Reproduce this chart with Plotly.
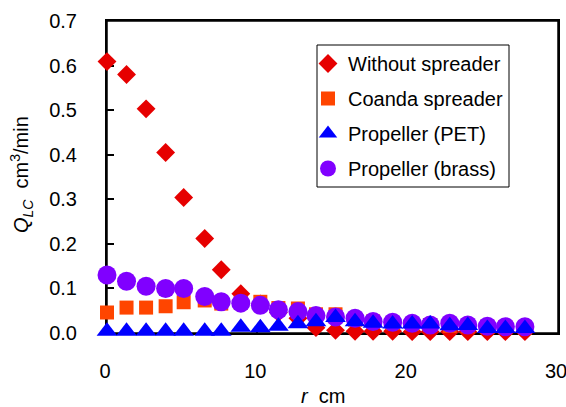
import plotly.graph_objects as go

# ---- data ----
r_cm = [0, 1.3, 2.6, 3.9, 5.1, 6.5, 7.6, 8.9, 10.2, 11.4, 12.7, 13.9, 15.2, 16.5,
        17.7, 19.0, 20.3, 21.5, 22.8, 24.0, 25.3, 26.5, 27.8]
without_spreader = [0.609, 0.580, 0.503, 0.405, 0.304, 0.212, 0.142, 0.088, 0.065,
                    0.046, 0.033, 0.012, 0.006, 0.004, 0.004, 0.004, 0.003, 0.003,
                    0.003, 0.003, 0.003, 0.003, 0.003]
coanda_spreader = [0.046, 0.057, 0.057, 0.060, 0.069, 0.073, 0.066, 0.068, 0.070,
                   0.056, 0.055, 0.042, 0.042, 0.030, 0.026, 0.022, 0.020, 0.018,
                   0.016, 0.015, 0.014, 0.013, 0.012]
propeller_pet = [0.004, 0.004, 0.004, 0.004, 0.004, 0.004, 0.004, 0.013, 0.012,
                 0.015, 0.021, 0.025, 0.035, 0.025, 0.022, 0.020, 0.020, 0.020,
                 0.016, 0.017, 0.010, 0.010, 0.010]
propeller_brass = [0.130, 0.116, 0.105, 0.100, 0.100, 0.082, 0.070, 0.067, 0.062,
                   0.052, 0.048, 0.039, 0.036, 0.033, 0.026, 0.024, 0.022, 0.018,
                   0.022, 0.018, 0.015, 0.014, 0.014]
series_names = ["Without spreader", "Coanda spreader", "Propeller (PET)", "Propeller (brass)"]
x_ticks = [0, 10, 20, 30]
y_ticks = [0.0, 0.1, 0.2, 0.3, 0.4, 0.5, 0.6, 0.7]

W, H = 566, 407
ML, MR, MT, MB = 107, 8, 21, 74
PW, PH = W - ML - MR, H - MT - MB
FONT = "Liberation Sans, Arial, sans-serif"

def px_to_paper_x(px):
    return (px - ML) / PW

def px_to_paper_y(py):
    return (H - MB - py) / PH

fig = go.Figure()
# draw order: red, orange, purple, blue (blue on top); legend order via legendrank
specs = [
    (series_names[0], without_spreader, "diamond", "#E60000", 14.5, 1),
    (series_names[1], coanda_spreader, "square", "#FF4500", 14, 2),
    (series_names[3], propeller_brass, "circle", "#8000FF", 19, 4),
    (series_names[2], propeller_pet, "triangle-up", "#0000FF", 18, 3),
]
for name, ys, sym, col, sz, rank in specs:
    fig.add_trace(go.Scatter(
        x=r_cm, y=ys, mode="markers", name=name,
        marker=dict(symbol=sym, color=col, size=sz, line=dict(width=0)),
        cliponaxis=False, legendrank=rank, legendgroup=name,
    ))

axis_common = dict(
    showgrid=False, zeroline=False, showline=True, linecolor="black",
    mirror=True, ticks="inside", ticklen=7, tickcolor="black", tickwidth=1.5,
    tickfont=dict(family=FONT, size=20, color="black"), layer="below traces",
    automargin=False, ticklabeloverflow="allow",
)
fig.update_xaxes(range=[0, 30], tickvals=x_ticks, linewidth=1.5,
                 ticklabelstandoff=19, ticklabelshift=-2, **axis_common)
fig.update_yaxes(range=[0, 0.7], tickvals=y_ticks, tickformat=".1f", linewidth=2,
                 ticklabelstandoff=24, **axis_common)

fig.update_layout(
    width=W, height=H, autosize=False,
    margin=dict(l=ML, r=MR, t=MT, b=MB),
    paper_bgcolor="white", plot_bgcolor="white",
    font=dict(family=FONT, size=20, color="black"),
    showlegend=True,
    legend=dict(
        x=px_to_paper_x(308), y=px_to_paper_y(44), xanchor="left", yanchor="top",
        bgcolor="rgba(0,0,0,0)", borderwidth=0,
        font=dict(family=FONT, size=20, color="black"),
        traceorder="grouped", tracegroupgap=6,
    ),
    shapes=[
        # plot frame (guarantees the right-hand border)
        dict(type="rect", xref="paper", yref="paper", x0=0, x1=1, y0=0, y1=1,
             line=dict(color="black", width=1.5), fillcolor="rgba(0,0,0,0)",
             layer="below"),
        # legend box
        dict(type="rect", xref="paper", yref="paper",
             x0=px_to_paper_x(317), x1=px_to_paper_x(509),
             y0=px_to_paper_y(187), y1=px_to_paper_y(45),
             line=dict(color="black", width=1), fillcolor="rgba(0,0,0,0)",
             layer="above"),
    ],
    annotations=[
        dict(text="<i>r</i>\u00a0 cm", xref="paper", yref="paper",
             x=px_to_paper_x(323), y=px_to_paper_y(396), xanchor="center", yanchor="middle",
             showarrow=False, font=dict(family=FONT, size=20, color="black")),
        dict(text="<i>Q</i><sub><i>LC</i></sub>\u00a0 cm<sup>3</sup>/min",
             xref="paper", yref="paper", textangle=-90,
             x=px_to_paper_x(21), y=px_to_paper_y(175), xanchor="center", yanchor="middle",
             showarrow=False, font=dict(family=FONT, size=20, color="black")),
    ],
)

fig.write_html(
    "out.html",
    config={"displayModeBar": False},
    post_script=(
        "document.body.style.margin='0';"
        "document.body.style.overflow='hidden';"
        "document.documentElement.style.overflow='hidden';"
    ),
)
